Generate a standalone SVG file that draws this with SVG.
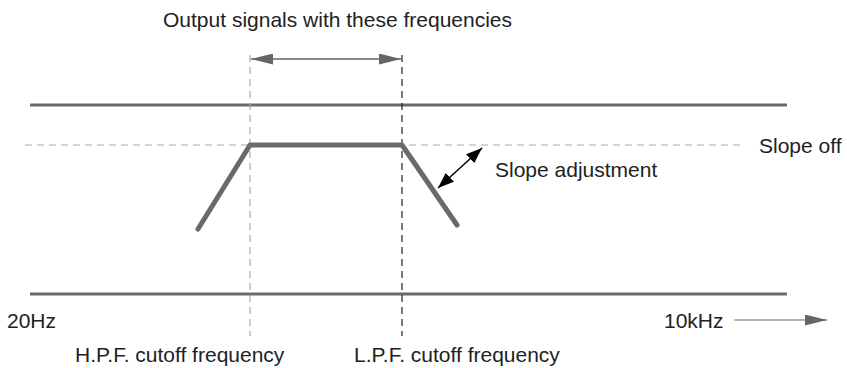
<svg xmlns="http://www.w3.org/2000/svg" width="847" height="368" viewBox="0 0 847 368">
<style>
text{font-family:"Liberation Sans",Arial,sans-serif;font-size:21px;fill:#222}
.rail{stroke:#6a6a6a;stroke-width:3;fill:none}
.dash{stroke:#aaa;stroke-width:1.2;stroke-dasharray:7,5;fill:none}
.dashk{stroke:#222;stroke-width:1.2;stroke-dasharray:7,5;fill:none}
</style>
<defs>
<marker id="ag2" viewBox="0 0 10 10" refX="10" refY="5" markerWidth="22" markerHeight="11" markerUnits="userSpaceOnUse" orient="auto-start-reverse" preserveAspectRatio="none"><path d="M0,0L10,5L0,10z" fill="#666"/></marker>
<marker id="ak" viewBox="0 0 10 10" refX="10" refY="5" markerWidth="16" markerHeight="12" markerUnits="userSpaceOnUse" orient="auto-start-reverse" preserveAspectRatio="none"><path d="M0,0L10,5L0,10z" fill="#000"/></marker>
</defs>
<g id="rails">
<line class="rail" x1="30" y1="105" x2="787" y2="105"/>
<line class="rail" x1="30" y1="294" x2="787" y2="294"/>
<line class="dash" x1="25" y1="145" x2="742" y2="145"/>
</g>
<g id="cutoffs">
<line class="dash" x1="250" y1="55" x2="250" y2="336"/>
<line class="dashk" x1="402" y1="55" x2="402" y2="336"/>
</g>
<g id="curve">
<polyline points="198,229 250,145 402,145 457,225" fill="none" stroke="#6a6a6a" stroke-width="5" stroke-linecap="round" stroke-linejoin="round"/>
</g>
<g id="connectors">
<line x1="251" y1="59" x2="401" y2="59" stroke="#666" stroke-width="1.5" marker-start="url(#ag2)" marker-end="url(#ag2)"/>
<line x1="438" y1="188" x2="482" y2="148" stroke="#000" stroke-width="1.5" marker-start="url(#ak)" marker-end="url(#ak)"/>
<line x1="734" y1="320" x2="827" y2="320" stroke="#666" stroke-width="1.2" marker-end="url(#ag2)"/>
</g>
<g id="labels">
<text x="163" y="27">Output signals with these frequencies</text>
<text x="495" y="177">Slope adjustment</text>
<text x="759" y="153">Slope off</text>
<text x="7" y="328">20Hz</text>
<text x="664" y="328">10kHz</text>
<text x="75" y="362">H.P.F. cutoff frequency</text>
<text x="354" y="362">L.P.F. cutoff frequency</text>
</g>
</svg>
